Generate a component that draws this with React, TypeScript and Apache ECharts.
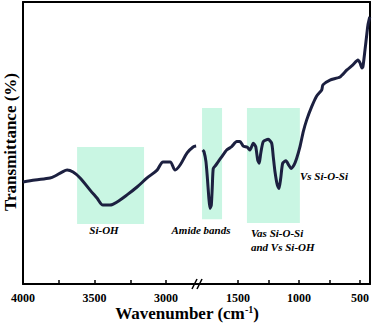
import React, { useEffect, useRef } from 'react';
import * as echarts from 'echarts';

// Left segment (4000 – 2770 cm-1)
const leftWavenumbers = [4000, 3916, 3811, 3776, 3727, 3692, 3650, 3601, 3531, 3483, 3441, 3392, 3343, 3273, 3203, 3133, 3063, 3021, 2972, 2937, 2902, 2853, 2811, 2790];
const leftTransmittance = [36.2, 36.9, 37.6, 38.3, 39.7, 40.4, 39.7, 37.6, 33.3, 30.5, 28.0, 28.0, 29.1, 31.6, 34.4, 37.6, 40.4, 43.3, 43.3, 40.4, 42.2, 46.5, 48.6, 48.9];

// Right segment (1820 – 418 cm-1)
const rightWavenumbers = [1790, 1779, 1763, 1752, 1740, 1730, 1719, 1711, 1703, 1681, 1662, 1634, 1593, 1552, 1511, 1484, 1457, 1424, 1402, 1375, 1355, 1339, 1326, 1314, 1293, 1252, 1224, 1211, 1197, 1178, 1164, 1150, 1134, 1107, 1085, 1066, 1041, 1019, 992, 965, 937, 896, 855, 814, 804, 746, 664, 607, 558, 517, 500, 484, 476, 459, 443, 435, 420];
const rightTransmittance = [47.5, 46.9, 43.4, 38.0, 30.9, 26.8, 28.0, 34.5, 41.0, 42.2, 43.4, 45.1, 47.5, 48.7, 50.5, 50.5, 48.9, 48.5, 47.5, 49.9, 48.7, 44.0, 42.8, 46.3, 50.5, 51.3, 49.9, 45.1, 39.8, 35.1, 33.9, 37.5, 42.8, 43.7, 42.2, 41.0, 42.2, 44.6, 48.7, 54.0, 58.2, 62.9, 66.7, 68.8, 70.6, 72.3, 73.4, 75.9, 77.7, 79.4, 78.4, 76.6, 77.0, 83.0, 89.0, 91.8, 94.7];

const leftLabelTicks = [4000, 3500, 3000];
const leftMinorTicks = [4000, 3750, 3500, 3250, 3000];
const rightLabelTicks = [1500, 1000, 500];
const rightMinorTicks = [1500, 1250, 1000, 750, 500];

// Highlighted bands: [fromWavenumber, toWavenumber, topValue, bottomValue]
const siOhBand = [3622, 3154, 48.6, 21.3];
const amideBand = [1795, 1631, 62.4, 23.0];
const vasBand = [1427, 993, 62.4, 21.6];

const bandLabels = ['Si-OH', 'Amide bands', 'Vas Si-O-Si', 'and Vs Si-OH', 'Vs Si-O-Si'];

const FONT = '"Liberation Serif", "Times New Roman", serif';
const LINE_COLOR = '#1c2040';
const BAND_COLOR = '#c9f6e3';

function band(b: number[]) {
  return [{ xAxis: b[0], yAxis: b[2] }, { xAxis: b[1], yAxis: b[3] }];
}

export default function App() {
  const ref = useRef<HTMLDivElement>(null);
  useEffect(() => {
    document.body.style.margin = '0';
    const chart = echarts.init(ref.current!, undefined, { renderer: 'svg' });
    const axisLine = { show: true, onZero: false, lineStyle: { color: '#000', width: 2 } };
    const labelStyle = {
      fontFamily: FONT, fontWeight: 'bold' as const, fontSize: 12, color: '#000', margin: 8,
      formatter: (v: number) => String(v),
    };
    const frameX = (grid: number, min: number, max: number) => ({
      type: 'value', gridIndex: grid, position: 'top', min, max, inverse: true,
      axisLine, axisTick: { show: false }, axisLabel: { show: false }, splitLine: { show: false },
    });
    const textStyle = (size: number, italic = false) => ({
      fontFamily: FONT, fontWeight: 'bold', fontStyle: italic ? 'italic' : 'normal', fontSize: size, fill: '#000',
    });
    chart.setOption({
      animation: false,
      grid: [
        { left: 23, top: 2, width: 176, height: 282 },
        { left: 199, top: 2, width: 171, height: 282 },
      ],
      xAxis: [
        {
          type: 'value', gridIndex: 0, min: 2770, max: 4000, inverse: true,
          axisLine,
          axisTick: { inside: true, length: 4, customValues: leftMinorTicks, lineStyle: { color: '#000', width: 1.5 } },
          axisLabel: { ...labelStyle, customValues: leftLabelTicks },
          splitLine: { show: false },
        },
        {
          type: 'value', gridIndex: 1, min: 418, max: 1820, inverse: true,
          axisLine,
          axisTick: { inside: true, length: 4, customValues: rightMinorTicks, lineStyle: { color: '#000', width: 1.5 } },
          axisLabel: { ...labelStyle, customValues: rightLabelTicks },
          splitLine: { show: false },
        },
        frameX(0, 2770, 4000),
        frameX(1, 418, 1820),
      ],
      yAxis: [
        { type: 'value', gridIndex: 0, min: 0, max: 100, axisLine, axisTick: { show: false }, axisLabel: { show: false }, splitLine: { show: false } },
        { type: 'value', gridIndex: 1, min: 0, max: 100, position: 'right', axisLine, axisTick: { show: false }, axisLabel: { show: false }, splitLine: { show: false } },
      ],
      series: [
        {
          type: 'line', xAxisIndex: 0, yAxisIndex: 0, showSymbol: false, smooth: 0.3,
          lineStyle: { color: LINE_COLOR, width: 3 },
          data: leftWavenumbers.map((w, i) => [w, leftTransmittance[i]]),
          markArea: { silent: true, itemStyle: { color: BAND_COLOR, opacity: 1 }, data: [band(siOhBand)] },
        },
        {
          type: 'line', xAxisIndex: 1, yAxisIndex: 1, showSymbol: false, smooth: 0.2,
          lineStyle: { color: LINE_COLOR, width: 3 },
          data: rightWavenumbers.map((w, i) => [w, rightTransmittance[i]]),
          markArea: { silent: true, itemStyle: { color: BAND_COLOR, opacity: 1 }, data: [band(amideBand), band(vasBand)] },
        },
      ],
      graphic: [
        { type: 'line', shape: { x1: 192, y1: 289, x2: 197, y2: 279 }, style: { stroke: '#000', lineWidth: 1.5 }, z: 100 },
        { type: 'line', shape: { x1: 197, y1: 289, x2: 202, y2: 279 }, style: { stroke: '#000', lineWidth: 1.5 }, z: 100 },
        { type: 'text', x: 104, y: 230, style: { text: bandLabels[0], ...textStyle(11, true), textAlign: 'center', textVerticalAlign: 'middle' } },
        { type: 'text', x: 201, y: 230, style: { text: bandLabels[1], ...textStyle(11, true), textAlign: 'center', textVerticalAlign: 'middle' } },
        { type: 'text', x: 251, y: 233, style: { text: bandLabels[2], ...textStyle(11, true), textAlign: 'left', textVerticalAlign: 'middle' } },
        { type: 'text', x: 251, y: 247, style: { text: bandLabels[3], ...textStyle(11, true), textAlign: 'left', textVerticalAlign: 'middle' } },
        { type: 'text', x: 300, y: 176, style: { text: bandLabels[4], ...textStyle(11, true), textAlign: 'left', textVerticalAlign: 'middle' } },
        {
          type: 'text', x: 187, y: 313,
          style: {
            text: '{a|Wavenumber (cm}{s|-1}{a|)}', textAlign: 'center', textVerticalAlign: 'middle',
            rich: {
              a: { fontFamily: FONT, fontWeight: 'bold', fontSize: 17, fill: '#000' },
              s: { fontFamily: FONT, fontWeight: 'bold', fontSize: 10, fill: '#000', verticalAlign: 'top', padding: [0, 0, 6, 0] },
            },
          },
        },
        {
          type: 'text', x: 10, y: 142, rotation: Math.PI / 2,
          style: { text: 'Transmittance (%)', ...textStyle(17), textAlign: 'center', textVerticalAlign: 'middle' },
        },
      ],
    });
    return () => chart.dispose();
  }, []);
  return <div ref={ref} style={{ width: 374, height: 324 }} />;
}
